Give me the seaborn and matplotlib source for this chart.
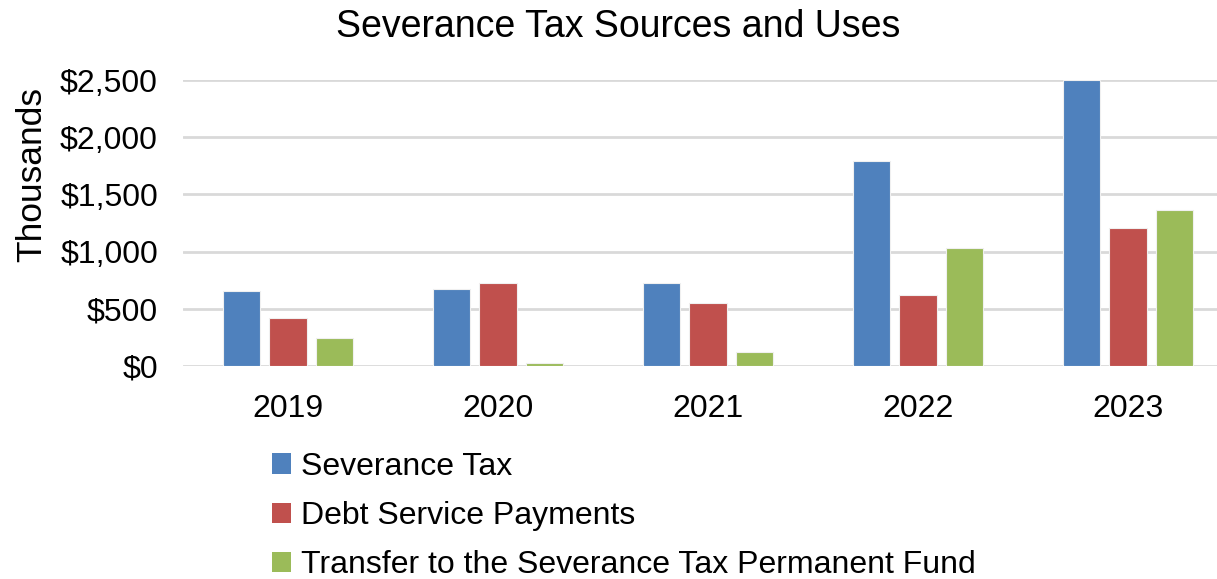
import matplotlib
matplotlib.use("Agg")
import matplotlib.pyplot as plt
import seaborn as sns
import pandas as pd
from matplotlib.ticker import FuncFormatter, MultipleLocator
from matplotlib.patches import Patch

years = ["2019", "2020", "2021", "2022", "2023"]
severance_tax = [653, 673, 723, 1788, 2500]
debt_service = [420, 728, 551, 618, 1203]
permanent_fund = [242, 29, 122, 1029, 1363]

series_names = ["Severance Tax", "Debt Service Payments",
                "Transfer to the Severance Tax Permanent Fund"]
colors = ["#4F81BD", "#C0504D", "#9BBB59"]

rows = []
for name, vals in zip(series_names, [severance_tax, debt_service, permanent_fund]):
    for y, v in zip(years, vals):
        rows.append({"Year": y, "Series": name, "Value": v})
df = pd.DataFrame(rows)

sns.set_theme(style="white")
plt.rcParams["font.family"] = ["Liberation Sans", "DejaVu Sans"]
plt.rcParams["text.color"] = "black"

fig = plt.figure(figsize=(12.17, 5.79), dpi=100)
ax = fig.add_axes([183 / 1217, 1 - 366 / 579, 1050 / 1217, 286 / 579])

sns.barplot(data=df, x="Year", y="Value", hue="Series", hue_order=series_names,
            palette=colors, saturation=1, width=0.664, gap=0.2, ax=ax,
            legend=False, edgecolor="#F0F0F0", linewidth=0.8, zorder=3)

ax.set_ylim(0, 2500)
ax.set_xlim(-0.5, 4.5)
ax.yaxis.set_major_locator(MultipleLocator(500))
ax.yaxis.set_major_formatter(FuncFormatter(lambda v, p: f"${v:,.0f}"))
ax.grid(axis="y", color="#D9D9D9", linewidth=2, zorder=0)
ax.set_axisbelow(True)
for s in ax.spines.values():
    s.set_visible(False)
ax.set_xlabel("")
ax.set_ylabel("")
ax.tick_params(axis="both", length=0, labelsize=23, colors="black")
ax.tick_params(axis="y", pad=18)
ax.tick_params(axis="x", pad=20)

fig.text(618 / 1217, 1 - 27 / 579, "Severance Tax Sources and Uses",
         ha="center", va="center", fontsize=27, color="black")
fig.text(32 / 1217, 1 - 175 / 579, "Thousands", rotation=90,
         ha="center", va="center", fontsize=25.5, color="black")

handles = [Patch(facecolor=c, edgecolor="none") for c in colors]
fig.legend(handles, series_names, loc="upper left",
           bbox_to_anchor=(259 / 1217, 1 - 439 / 579), frameon=False,
           fontsize=23, handlelength=0.6, handleheight=0.6,
           handletextpad=0.3, labelspacing=0.6, borderaxespad=0,
           labelcolor="black")

fig.savefig("out.png", dpi=100)
